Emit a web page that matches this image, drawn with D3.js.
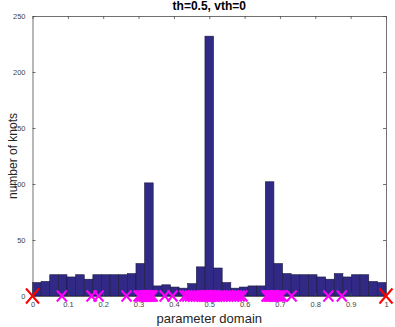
<!DOCTYPE html>
<html><head><meta charset="utf-8">
<script src="https://cdn.jsdelivr.net/npm/d3@7"></script>
<style>body{margin:0;background:#fff}svg{display:block}</style>
</head><body>
<script>
// Histogram of knot counts: 41 equal bins over [0,1]
const binCount = 41;
const counts = [12,13,19,19,17,19,15,19,19,19,19,20,29,101,9,10,8,7,11,26,232,25,12,7,8,9,9,102,29,20,19,19,19,17,15,20,17,19,19,13,12];
// knot locations shown as crosses on the axis
const sparseKnots = [0.083,0.167,0.187,0.266,0.374,0.396,0.733,0.837,0.875];
const clusterLeft = [0.300,0.305,0.310,0.315,0.319,0.322,0.325,0.328,0.331,0.334,0.337,0.340];
const clusterMid = [0.430,0.438,0.446,0.454,0.462,0.470,0.478,0.484,0.490,0.494,0.498,0.500,0.502,0.506,0.510,0.516,0.522,0.530,0.538,0.546,0.554,0.562,0.570,0.578,0.586,0.594];
const clusterRight = [0.662,0.667,0.671,0.675,0.679,0.683,0.688,0.694,0.700,0.706];
const endKnots = [0,1];
const xTicks = [0,0.1,0.2,0.3,0.4,0.5,0.6,0.7,0.8,0.9,1];
const yTicks = [0,50,100,150,200,250];
const titleText = "th=0.5, vth=0";
const xLabel = "parameter domain";
const yLabel = "number of knots";

const W = 395, H = 327;
const L = 32.5, R = 386, T = 16, B = 296;
const svg = d3.select("body").append("svg").attr("width", W).attr("height", H);
const x = d3.scaleLinear().domain([0,1]).range([L,R]);
const y = d3.scaleLinear().domain([0,250]).range([B,T]);
const font = "'Liberation Sans', Arial, Helvetica, sans-serif";

const bins = counts.map((c,i)=>({x0:i/binCount, x1:(i+1)/binCount, c}));
svg.append("g").selectAll("rect").data(bins).join("rect")
  .attr("x", d=>x(d.x0)).attr("width", d=>x(d.x1)-x(d.x0))
  .attr("y", d=>y(d.c)).attr("height", d=>y(0)-y(d.c))
  .attr("fill","#302a86").attr("stroke","#1c1a3c").attr("stroke-width",0.6);

function axisStyle(g, labels){
  g.selectAll("path.domain").attr("stroke","#4d4d4d").attr("stroke-width",0.8);
  g.selectAll(".tick line").attr("stroke","#4d4d4d").attr("stroke-width",0.8);
  g.selectAll(".tick text").attr("fill","#444").style("font-family",font).style("font-size","7.5px");
  if(!labels) g.selectAll(".tick text").remove();
}
const fmtX = d=> d===0||d===1 ? String(d) : d3.format(".1f")(d);
svg.append("g").attr("transform",`translate(0,${B})`)
  .call(d3.axisBottom(x).tickValues(xTicks).tickFormat(fmtX).tickSizeInner(-3).tickSizeOuter(0).tickPadding(6))
  .call(g=>axisStyle(g,true));
svg.append("g").attr("transform",`translate(0,${T})`)
  .call(d3.axisTop(x).tickValues(xTicks).tickSizeInner(-3).tickSizeOuter(0))
  .call(g=>axisStyle(g,false));
svg.append("g").attr("transform",`translate(${L},0)`)
  .call(d3.axisLeft(y).tickValues(yTicks).tickSizeInner(-3).tickSizeOuter(0).tickPadding(7))
  .call(g=>axisStyle(g,true));
svg.append("g").attr("transform",`translate(${R},0)`)
  .call(d3.axisRight(y).tickValues(yTicks).tickSizeInner(-3).tickSizeOuter(0))
  .call(g=>axisStyle(g,false));

function crosses(data, color, hw, hh, sw){
  const g = svg.append("g").attr("stroke",color).attr("stroke-width",sw).attr("fill","none");
  g.selectAll("path").data(data).join("path")
    .attr("d", d=>{const cx=x(d), cy=y(0);
      return `M${cx-hw},${cy-hh}L${cx+hw},${cy+hh}M${cx-hw},${cy+hh}L${cx+hw},${cy-hh}`;});
}
const magentaKnots = [...sparseKnots, ...clusterLeft, ...clusterMid, ...clusterRight];
crosses(magentaKnots, "#ff00ff", 5, 5.5, 2);
crosses(endKnots, "#ff0000", 6.5, 7.5, 2);

svg.append("text").attr("x",(L+R)/2).attr("y",10).attr("text-anchor","middle")
  .style("font-family",font).style("font-size","12px").style("font-weight","bold").attr("fill","#000").text(titleText);
svg.append("text").attr("x",(L+R)/2).attr("y",323).attr("text-anchor","middle")
  .style("font-family",font).style("font-size","13px").attr("fill","#262626").text(xLabel);
svg.append("text").attr("transform",`translate(17,${(T+B)/2}) rotate(-90)`).attr("text-anchor","middle")
  .style("font-family",font).style("font-size","12px").attr("fill","#262626").text(yLabel);
</script>
</body></html>
